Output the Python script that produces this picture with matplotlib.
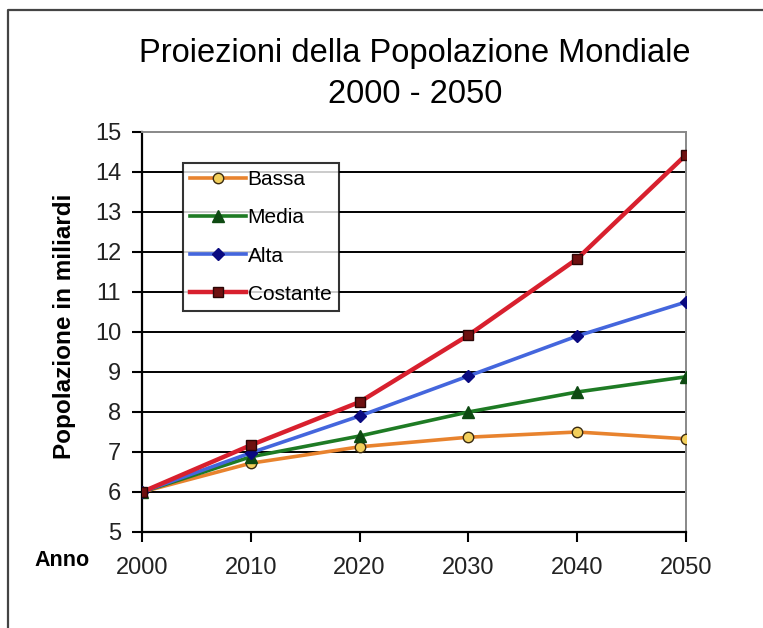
import matplotlib
matplotlib.use("Agg")
import matplotlib.pyplot as plt
from matplotlib.lines import Line2D

plt.rcParams['font.family'] = ['Liberation Sans', 'DejaVu Sans']

# data (miliardi)
anni = [2000, 2010, 2020, 2030, 2040, 2050]
bassa = [6.0, 6.72, 7.13, 7.37, 7.5, 7.33]
media = [6.0, 6.88, 7.4, 8.0, 8.5, 8.88]
alta = [6.0, 6.98, 7.9, 8.9, 9.9, 10.75]
costante = [6.0, 7.17, 8.25, 9.92, 11.83, 14.43]
y_ticks = list(range(5, 16))
titolo = "Proiezioni della Popolazione Mondiale\n2000 - 2050"

W, H = 763, 628
fig = plt.figure(figsize=(W / 100, H / 100), dpi=100)
fig.patch.set_facecolor('white')

def px(x, y):
    """pixel coords (top-left origin) to figure fraction"""
    return x / W, 1 - y / H

l, t = px(142, 132)
r, b = px(686, 532)
ax = fig.add_axes([l, b, r - l, t - b])

ax.plot(anni, bassa, color='#E8832E', lw=2.6, marker='o', ms=7.5,
        mfc='#F2CF5B', mec='#3A2A10', mew=1.0, label='Bassa', zorder=4)
ax.plot(anni, media, color='#1E7B24', lw=2.6, marker='^', ms=8.5,
        mfc='#0E4A12', mec='#0E4A12', label='Media', zorder=5)
ax.plot(anni, alta, color='#4466DD', lw=2.6, marker='D', ms=6.5,
        mfc='#0A0A80', mec='#0A0A80', label='Alta', zorder=6)
ax.plot(anni, costante, color='#D8202E', lw=3.2, marker='s', ms=7.5,
        mfc='#6E1010', mec='#2A0505', mew=1.0, label='Costante', zorder=7)

ax.set_xlim(2000, 2050)
ax.set_ylim(5, 15)
ax.set_xticks(anni)
ax.set_yticks(y_ticks)

for v in y_ticks[1:-1]:
    ax.axhline(v, color='black', lw=1.4, zorder=1)

ax.spines['left'].set_color('black')
ax.spines['left'].set_linewidth(1.6)
ax.spines['bottom'].set_color('black')
ax.spines['bottom'].set_linewidth(1.6)
ax.spines['top'].set_color('#888888')
ax.spines['top'].set_linewidth(1.4)
ax.spines['right'].set_color('#888888')
ax.spines['right'].set_linewidth(1.4)

ax.tick_params(axis='both', direction='out', length=7, width=1.5,
               colors='black', labelsize=17)
ax.tick_params(axis='x', pad=11)
ax.tick_params(axis='y', pad=8)
for lab in ax.get_xticklabels() + ax.get_yticklabels():
    lab.set_color('#222222')

leg = ax.legend(loc='upper left', bbox_to_anchor=(0.0754, 0.9225),
                borderaxespad=0, fancybox=False, frameon=True,
                edgecolor='black', fontsize=15, handlelength=2.65,
                handletextpad=0.1, labelspacing=0.92, borderpad=0.35)
leg.get_frame().set_linewidth(1.5)
leg.set_zorder(10)

fig.text(*px(415, 74), titolo, ha='center', va='center', fontsize=23.5,
         linespacing=1.42, color='black')
fig.text(*px(65, 326), "Popolazione in miliardi", rotation=90,
         ha='center', va='center', fontsize=17.5, fontweight='bold')
fig.text(*px(62, 561), "Anno", ha='center', va='center', fontsize=15.5,
         fontweight='bold')

# outer chart frame (only left and top edges are visible)
fig.add_artist(Line2D([8 / W, 8 / W, 1.0], [0.0, 1 - 10 / H, 1 - 10 / H],
                      transform=fig.transFigure, color='#444444', lw=1.6))

fig.savefig('out.png', dpi=100)
